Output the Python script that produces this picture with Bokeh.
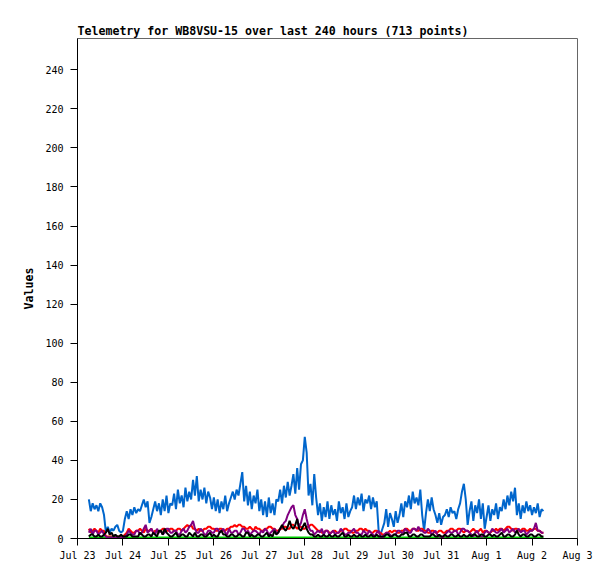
from bokeh.plotting import figure
from bokeh.models import FixedTicker, Range1d
from bokeh.embed import file_html
from bokeh.resources import INLINE

title_text = "Telemetry for WB8VSU-15 over last 240 hours (713 points)"
y_label = "Values"
tick_labels = ["Jul 23", "Jul 24", "Jul 25", "Jul 26", "Jul 27", "Jul 28",
               "Jul 29", "Jul 30", "Jul 31", "Aug 1", "Aug 2", "Aug 3"]
y_ticks = [0, 20, 40, 60, 80, 100, 120, 140, 160, 180, 200, 220, 240]
start_day = 0.25  # first sample: Jul 23, 06:00

# blue series, hourly samples
blue = [20, 14, 18, 15, 17, 14, 18, 16, 12, 3,
        6, 3, 5, 4, 6, 7, 4, 3, 4,
        10,
        14, 10, 15, 12, 16, 13, 15, 14,
        17, 20, 16, 19,
        8, 11,
        15, 19, 14, 18,
        12, 20, 14, 22, 13, 18,
        17, 23, 15, 25, 18, 22, 16, 26, 19, 24,
        20, 30, 22, 32,
        19, 25, 20, 26, 18, 24, 21,
        15, 21, 14, 20, 13, 19, 15, 22, 14, 18,
        21, 24, 20, 25,
        22, 28, 34, 19, 27,
        17, 24, 15, 22, 18, 25,
        14, 20, 12, 19, 11, 21, 13, 18, 12, 20,
        19, 25, 18, 27, 21, 29, 22,
        27, 33, 23, 36, 25, 38,
        40, 52, 44, 22,
        28, 17, 33,
        21,
        12, 18, 9, 16, 11, 19,
        10, 17, 12, 15, 9, 19, 13, 16, 10, 18, 11, 14,
        16, 22, 15, 21, 17, 23, 14, 20, 18, 22, 15, 21, 16, 19,
        4, 2, 5,
        8, 15, 6, 13,
        10, 6, 14, 8,
        12, 18, 11, 19,
        16, 22, 15, 24, 18, 21, 17, 25,
        12, 4,
        13, 20, 14, 21, 15,
        12, 8, 13, 7, 11,
        12, 15, 11, 16, 13, 14, 10, 15,
        18, 24, 28, 20,
        7,
        14, 19, 9, 17,
        13, 20, 10, 18,
        5,
        11, 17, 9, 15, 12, 18, 10, 16,
        14, 20, 15, 22, 17, 24, 19, 26,
        12, 18, 10, 17, 13, 19,
        14, 17, 12, 16, 13, 18, 11, 15, 14]

# red series, hourly samples
red = [5, 3, 4, 5, 4, 3, 5, 4, 4, 1,
       1, 1, 1, 1, 1, 1, 1, 1, 1, 2,
       3, 5, 4, 3, 3, 4, 4, 5, 4, 3, 5, 4, 4, 5, 3, 4, 4, 3,
       4, 5, 5, 4, 4, 5, 5, 4, 4, 5, 5, 4, 5, 6, 7, 6, 7, 5, 5, 4,
       5, 4, 4, 5, 5, 6, 6, 5, 5, 4, 4, 5, 5, 4, 4, 5, 5, 6, 6, 7, 6, 7,
       7, 6, 6, 5, 5, 6, 5, 4, 6, 5, 5, 4, 4, 5, 5, 6, 6, 5, 5, 4, 4, 5,
       5, 6, 6, 5, 5, 7, 7, 6, 5, 6, 6, 5, 5, 6, 6, 7, 7, 6, 5, 4,
       4, 3, 3, 4, 4, 3, 3, 4, 4, 3, 3, 4, 4, 5, 5, 4, 4, 3, 3, 4,
       4, 5, 5, 4, 5, 4, 4, 3, 3, 4, 4, 3, 3, 2, 2, 3, 3, 4,
       3, 4, 4, 3, 3, 4, 4, 5, 5, 4, 4, 5, 5, 4, 4, 5, 5, 4, 4, 3, 3,
       4, 4, 3, 3, 4, 4, 3, 3, 4, 4, 5, 5, 4, 4, 5, 5, 4, 3, 4, 4, 3,
       4, 5, 4, 3, 4, 5, 3, 4, 4, 3, 3, 4, 4, 5, 4, 5, 5, 4, 5, 6,
       6, 5, 4, 5, 5, 4, 4, 5, 5, 4, 4, 5, 4, 5, 5, 4, 4, 3, 3]

# purple series, hourly samples
purple = [3, 5, 2, 4, 4, 2, 3, 4, 2, 1,
          0.5, 0.5, 0.5, 0.5, 0.5, 0.5, 0.5, 0.5, 0.5, 1,
          2, 4, 3, 2, 2, 4, 4, 2, 3, 5, 7, 3, 4, 5, 3, 2, 5, 3,
          4, 2, 3, 5, 5, 3, 3, 4, 4, 2, 2, 4, 5, 3, 4, 6, 7, 9, 5, 3,
          3, 5, 4, 2, 2, 4, 4, 3, 3, 5, 5, 3, 4, 5, 3, 2, 5, 3, 3, 4, 4, 2,
          3, 5, 5, 3, 4, 2, 3, 4, 4, 3, 2, 4, 3, 5, 4, 2, 3, 4, 5, 3, 3, 5,
          6, 8, 9, 12, 14, 16, 17, 12, 10, 6, 8, 12, 15, 10, 6, 4, 4, 2, 3, 4,
          3, 5, 2, 4, 4, 2, 3, 4, 2, 3, 3, 5, 4, 2, 2, 3, 3, 4, 5, 3,
          3, 2, 2, 4, 3, 2, 4, 3, 2, 1, 3, 4, 1, 0.5, 2, 3, 3, 2,
          1, 2, 2, 4, 4, 3, 3, 5, 4, 3, 3, 5, 5, 4, 6, 4, 4, 3, 3, 5, 4,
          2, 3, 4, 2, 1, 1, 0.5, 2, 3, 4, 3, 3, 4, 4, 2, 3, 5, 5, 4, 4, 3,
          2, 1, 3, 4, 2, 1, 1, 3, 4, 3, 3, 5, 4, 3, 3, 4, 5, 3, 4, 5,
          3, 4, 5, 3, 4, 5, 3, 4, 4, 2, 3, 4, 4, 5, 8, 4, 4, 3, 3]

# black series, hourly samples
black = [1, 2, 2, 1, 1, 2, 1, 1, 2, 3,
         5, 2, 3, 1, 2, 1, 1, 2, 1, 1,
         1, 2, 2, 1, 1, 1, 1, 3, 2, 1, 1, 2, 2, 1, 3, 2, 1, 4,
         4, 2, 5, 3, 2, 1, 1, 2, 3, 1, 1, 2, 2, 1, 1, 3, 2, 1, 3, 1,
         1, 2, 2, 1, 1, 2, 3, 1, 2, 1, 1, 3, 4, 2, 2, 1, 1, 2, 2, 1, 1, 2,
         2, 1, 1, 3, 3, 1, 2, 1, 1, 2, 2, 1, 1, 2, 3, 1, 2, 1, 4, 2, 3, 5,
         7, 5, 4, 6, 9, 6, 5, 7, 10, 5, 4, 6, 8, 5, 3, 2, 2, 1, 1, 2,
         1, 1, 2, 1, 1, 2, 1, 1, 2, 1, 1, 2, 3, 1, 1, 2, 1, 1, 2, 1,
         1, 2, 1, 1, 2, 1, 1, 2, 1, 1, 2, 1, 1, 1, 1, 2, 2, 1,
         1, 2, 2, 1, 1, 2, 2, 3, 3, 1, 1, 2, 2, 1, 1, 2, 2, 1, 1, 1, 1,
         2, 2, 1, 1, 2, 1, 1, 2, 1, 1, 2, 2, 1, 1, 2, 1, 1, 2, 1, 1, 2,
         1, 2, 2, 1, 1, 2, 2, 1, 1, 2, 2, 1, 2, 1, 1, 2, 3, 1, 1, 2,
         2, 1, 1, 2, 4, 2, 1, 2, 2, 1, 1, 2, 2, 1, 1, 2, 2, 1, 1]

# green series, 2-hourly samples
green = [0.5, 0.5, 0.5, 0.5, 0.5, 0.5, 0.5, 0.5, 0.5, 0.5, 0.5, 0.5, 0.5, 0.5, 0.5, 0.5, 0.5, 0.5, 0.5, 0.5,
         0.5, 0.5, 0.5, 0.5, 0.5, 0.5, 0.5, 0.5, 0.5, 0.5, 0.5, 0.5, 0.5, 0.5, 0.5, 0.5, 0.5, 0.5, 0.5, 0.5,
         0.5, 0.5, 0.5, 0.5, 0.5, 0.5, 0.5, 0.5, 0.5, 0.5, 0.5, 0.5, 0.5, 0.5, 0.5, 0.5, 0.5, 0.5, 0.5, 0.5,
         0.5, 0.5, 0.5, 0.5, 0.5, 0.5, 0.5, 0.5, 0.5, 0.5, 0.5, 0.5, 0.5, 0.5, 0.5, 0.5, 0.5, 0.5, 0.5, 0.5,
         0.5, 0.5, 0.5, 0.5, 0.5, 0.5, 0.5, 0.5, 0.5, 0.5, 0.5, 0.5, 0.5, 0.5, 0.5, 0.5, 0.5, 0.5, 0.5, 0.5,
         0.5, 0.5, 0.5, 0.5, 0.5, 0.5, 0.5, 0.5, 0.5, 0.5, 0.5, 0.5, 0.5, 0.5, 0.5, 0.5, 0.5, 0.5, 0.5, 0.5, 0.5]


def hours_axis(series, step_hours):
    return [start_day + step_hours * i / 24.0 for i in range(len(series))]


MONO = "DejaVu Sans Mono"

p = figure(frame_width=500, frame_height=500,
           x_range=Range1d(0, 11), y_range=Range1d(0, 256),
           output_backend="svg", toolbar_location=None,
           min_border_left=77, min_border_right=30,
           min_border_top=38, min_border_bottom=33,
           background_fill_color="white", border_fill_color="white")

p.title.text = title_text
p.title.text_font = MONO
p.title.text_font_style = "bold"
p.title.text_font_size = "11.6px"
p.title.text_color = "black"
p.title.align = "left"
p.title.standoff = 2

p.grid.visible = False
p.outline_line_color = "#666666"
p.outline_line_width = 1

for ax in (p.xaxis[0], p.yaxis[0]):
    ax.major_tick_out = 7
    ax.major_tick_in = 0
    ax.minor_tick_out = 0
    ax.minor_tick_in = 0
    ax.axis_line_color = "black"
    ax.major_tick_line_color = "black"
    ax.major_label_text_font = MONO
    ax.major_label_text_font_size = "10px"
    ax.major_label_text_color = "black"

p.xaxis.ticker = FixedTicker(ticks=list(range(len(tick_labels))))
p.xaxis.major_label_overrides = {i: lab for i, lab in enumerate(tick_labels)}
p.xaxis.major_label_standoff = 4

p.yaxis.ticker = FixedTicker(ticks=y_ticks)
p.yaxis.major_label_standoff = 7
p.yaxis.axis_label = y_label
p.yaxis.axis_label_text_font = MONO
p.yaxis.axis_label_text_font_style = "bold"
p.yaxis.axis_label_text_font_size = "11.6px"
p.yaxis.axis_label_text_color = "black"
p.yaxis.axis_label_standoff = 6

p.line(hours_axis(blue, 1), blue, line_color="#0066cc", line_width=2)
p.line(hours_axis(red, 1), red, line_color="#ff0000", line_width=2)
p.line(hours_axis(green, 2), green, line_color="#00cc00", line_width=2)
p.line(hours_axis(purple, 1), purple, line_color="#800080", line_width=2)
p.line(hours_axis(black, 1), black, line_color="#000000", line_width=2)

open("out.html", "w").write(file_html(p, INLINE))
